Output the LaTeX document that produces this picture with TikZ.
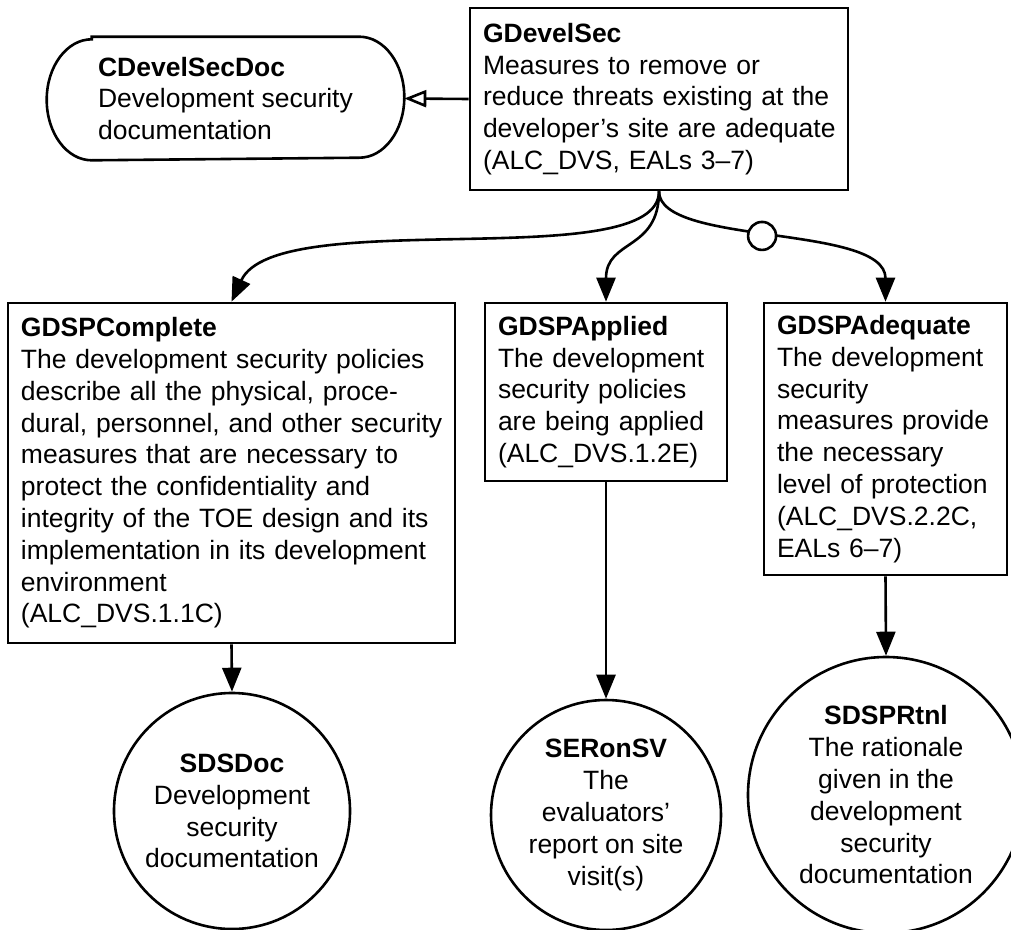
\documentclass[tikz,border=0pt]{standalone}
\usepackage{fontspec}
\setmainfont{Liberation Sans}
\usetikzlibrary{arrows.meta}
\newcommand{\gfont}{\fontsize{26.5}{31.8}\selectfont}
\newcommand{\ind}{\hspace*{13pt}}
\newcommand{\nl}{\\\hspace*{13pt}}
\begin{document}
\begin{tikzpicture}[x=1pt, y=-1pt, line width=2.6pt, font=\gfont,
  gbox/.style={draw, rectangle, inner sep=0pt, align=left},
  circ/.style={draw, circle, inner sep=0pt, align=center},
  arr/.style={-{Triangle[length=24pt,width=19pt]}},
  openarr/.style={-{Triangle[open,length=22pt,width=17pt]}},
  optcirc/.style={draw, circle, fill=white, minimum size=28pt, inner sep=0pt}]
\useasboundingbox (0,0) rectangle (1011,929);

% goals
\node[gbox, text width=378pt, minimum height=182pt] (GDevelSec) at (659,99)
  {\ind\textbf{GDevelSec}\nl Measures to remove or\nl reduce threats existing at the\nl developer’s site are adequate\nl (ALC\_DVS, EALs 3–7)};

\node[gbox, text width=447pt, minimum height=340pt] (GDSPComplete) at (231.5,473)
  {\ind\textbf{GDSPComplete}\nl The development security policies\nl describe all the physical, proce-\nl dural, personnel, and other security\nl measures that are necessary to\nl protect the confidentiality and\nl integrity of the TOE design and its\nl implementation in its development\nl environment\nl (ALC\_DVS.1.1C)};

\node[gbox, text width=242pt, minimum height=178pt] (GDSPApplied) at (606,392)
  {\ind\textbf{GDSPApplied}\nl The development\nl security policies\nl are being applied\nl (ALC\_DVS.1.2E)};

\node[gbox, text width=243pt, minimum height=272pt] (GDSPAdequate) at (885.5,439)
  {\ind\textbf{GDSPAdequate}\nl The development\nl security\nl measures provide\nl the necessary\nl level of protection\nl (ALC\_DVS.2.2C,\nl EALs 6–7)};

% context
\node[align=left, minimum width=355pt, minimum height=121pt, inner sep=0pt] (CDevelSecDoc) at (225.5,98.5)
  {\textbf{CDevelSecDoc}\\Development security\\documentation};
\draw ([xshift=45pt]CDevelSecDoc.north west) -- ([xshift=-45pt]CDevelSecDoc.north east)
  arc[start angle=90, end angle=-90, x radius=45pt, y radius=60.5pt]
  -- ([xshift=45pt]CDevelSecDoc.south west)
  arc[start angle=270, end angle=90, x radius=45pt, y radius=60.5pt] -- cycle;

% solutions
\node[circ, minimum size=236pt] (SDSDoc) at (232,811)
  {\textbf{SDSDoc}\\Development\\security\\documentation};
\node[circ, minimum size=230pt] (SERonSV) at (606,815)
  {\textbf{SERonSV}\\The\\evaluators’\\report on site\\visit(s)};
\node[circ, minimum size=276pt] (SDSPRtnl) at (886,795)
  {\textbf{SDSPRtnl}\\The rationale\\given in the\\development\\security\\documentation};

% connectors
\draw[openarr] (GDevelSec.west) -- (CDevelSecDoc.east);
\draw[arr] (GDevelSec.south) .. controls +(0,85) and +(45,-98) .. (GDSPComplete.north);
\draw[arr] (GDevelSec.south) .. controls +(0,60) and +(0,-63) .. (GDSPApplied.north);
\draw[arr] (GDevelSec.south) .. controls +(0,55) and +(0,-78) .. (GDSPAdequate.north)
  node[optcirc, pos=0.47] (opt) {};
\draw[arr] (GDSPComplete.south) -- (SDSDoc.north);
\draw[arr] (GDSPApplied.south) -- (SERonSV.north);
\draw[arr] (GDSPAdequate.south) -- (SDSPRtnl.north);
\end{tikzpicture}
\end{document}
